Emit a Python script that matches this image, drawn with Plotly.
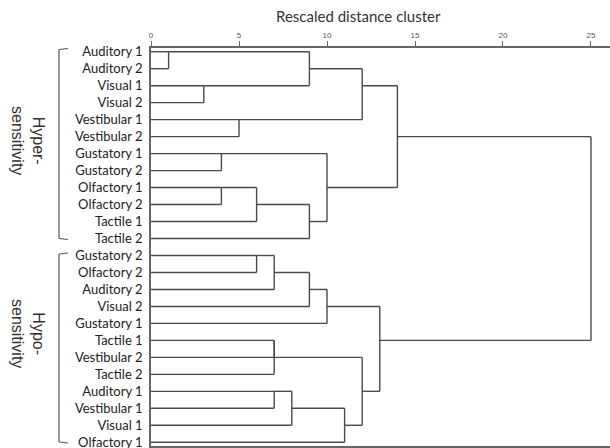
import math
import plotly.graph_objects as go

# Leaf labels, top to bottom
leaf_labels = [
    "Auditory 1", "Auditory 2", "Visual 1", "Visual 2", "Vestibular 1", "Vestibular 2",
    "Gustatory 1", "Gustatory 2", "Olfactory 1", "Olfactory 2", "Tactile 1", "Tactile 2",
    "Gustatory 2", "Olfactory 2", "Auditory 2", "Visual 2", "Gustatory 1", "Tactile 1",
    "Vestibular 2", "Tactile 2", "Auditory 1", "Vestibular 1", "Visual 1", "Olfactory 1",
]

# Agglomeration schedule: node ids 0..23 are leaves, new clusters get ids 24, 25, ...
merge_left = [0, 2, 24, 4, 26, 6, 8, 30, 31, 29, 28,
              12, 35, 36, 37, 17, 39, 20, 41, 42, 40, 38, 34]
merge_right = [1, 3, 25, 5, 27, 7, 9, 10, 11, 32, 33,
               13, 14, 15, 16, 18, 19, 21, 22, 23, 43, 44, 45]
merge_dist = [1, 3, 9, 5, 12, 4, 4, 6, 9, 10, 14,
              6, 7, 9, 10, 7, 7, 7, 8, 11, 12, 13, 25]

x_ticks = [0, 5, 10, 15, 20, 25]

n = len(leaf_labels)
row = {i: i for i in range(n)}
height = {i: 0 for i in range(n)}
xs, ys = [], []
for k, (a, b, d) in enumerate(zip(merge_left, merge_right, merge_dist)):
    for c in (a, b):
        xs += [height[c], d, None]
        ys += [row[c], row[c], None]
    xs += [d, d, None]
    ys += [row[a], row[b], None]
    nid = n + k
    row[nid] = math.floor((row[a] + row[b]) / 2)
    height[nid] = d

LINE = "#4a4a4a"
fig = go.Figure()
fig.add_trace(go.Scatter(x=xs, y=ys, mode="lines",
                         line=dict(color=LINE, width=1.4),
                         hoverinfo="skip", showlegend=False))

fig.update_layout(
    width=610, height=448,
    margin=dict(l=151, r=0, t=48, b=2),
    paper_bgcolor="white", plot_bgcolor="white",
    showlegend=False,
    font=dict(family="Lato", color="#222"),
    xaxis=dict(side="top", range=[0, 26.08], tickvals=x_ticks,
               ticktext=[str(v) for v in x_ticks], automargin=False,
               showgrid=False, zeroline=False, showline=True, mirror=True,
               linecolor="#666", linewidth=1.5,
               ticks="outside", ticklen=5, tickcolor="#666", tickwidth=1,
               tickfont=dict(family="Liberation Sans", size=8, color="#555")),
    yaxis=dict(range=[23.22, -0.22], tickvals=list(range(n)), ticktext=leaf_labels,
               showgrid=False, zeroline=False, showline=True, automargin=False,
               linecolor="#666", linewidth=1.5, ticks="",
               ticklabelstandoff=4, ticklabeloverflow="allow",
               tickfont=dict(family="Lato", size=13, color="#222")),
)

fig.add_annotation(text="Rescaled distance cluster", xref="paper", yref="paper",
                   x=0.453, y=1.08, showarrow=False, xanchor="center", yanchor="middle",
                   font=dict(family="Lato", size=15, color="#333"))

# Group brackets
BR = "#555"
for y0, y1 in [(49.5, 238.5), (254, 442)]:
    for (xa, ya, xb, yb) in [(59, y0, 59, y1), (59, y0, 68, y0 - 1), (59, y1, 68, y1 + 1)]:
        fig.add_shape(type="line", xref="paper", yref="paper",
                      x0=(xa - 151) / 459, x1=(xb - 151) / 459,
                      y0=(446 - ya) / 398, y1=(446 - yb) / 398,
                      line=dict(color=BR, width=1.2))

for text, yc in [("Hyper-<br>sensitivity", 140), ("Hypo-<br>sensitivity", 333)]:
    fig.add_annotation(text=text, xref="paper", yref="paper",
                       x=(28 - 151) / 459, y=(446 - yc) / 398,
                       showarrow=False, textangle=90, align="center",
                       xanchor="center", yanchor="middle",
                       font=dict(family="Liberation Sans", size=16, color="#333"))

fig.write_html("out.html", config={"displayModeBar": False},
               post_script="document.body.style.margin='0px';document.body.style.overflow='hidden';")
